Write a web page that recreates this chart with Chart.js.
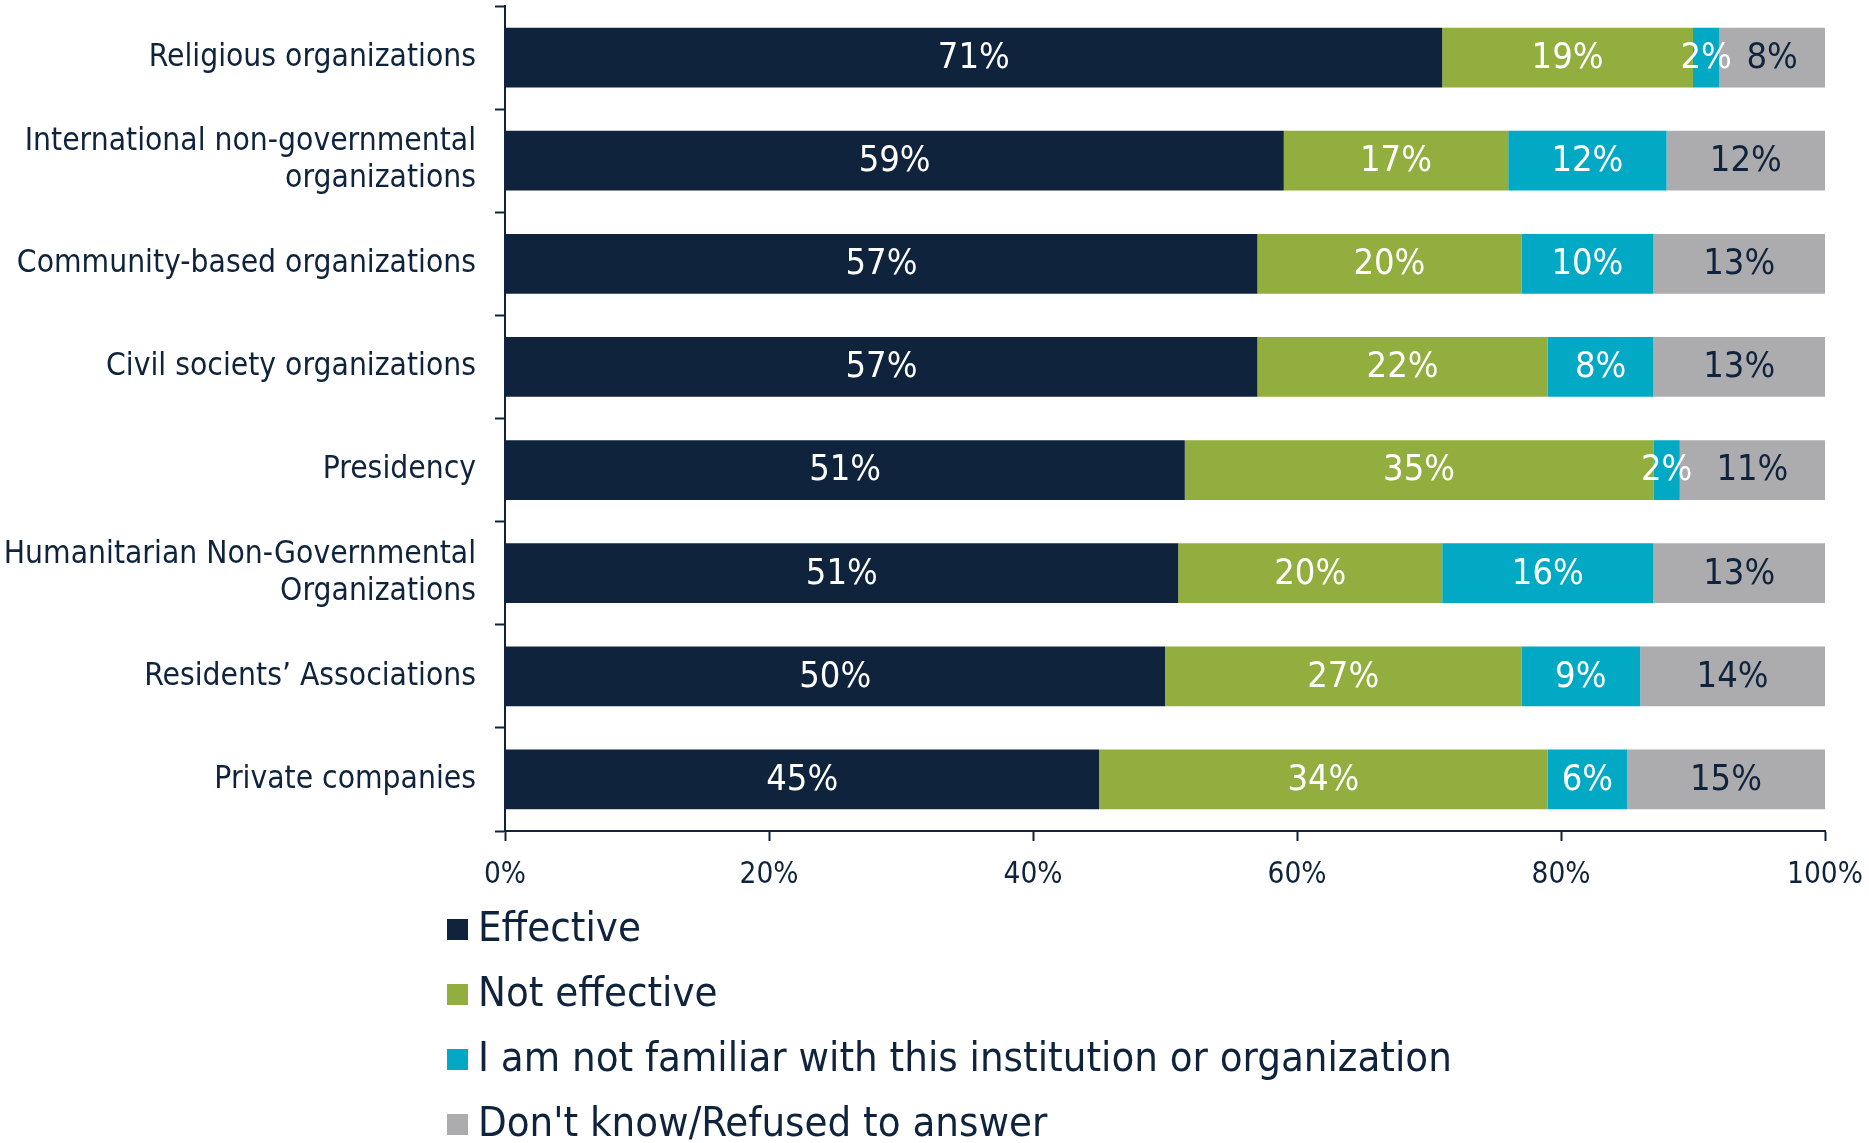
<!DOCTYPE html>
<html>
<head>
<meta charset="utf-8">
<script src="https://cdn.jsdelivr.net/npm/chart.js@4"></script>
<style>
  html, body { margin: 0; padding: 0; background: #ffffff; }
  canvas { display: block; }
</style>
</head>
<body>
<canvas id="effChart" width="1869" height="1143"></canvas>
<script>
const categories = [
  'Religious organizations',
  ['International non-governmental', 'organizations'],
  'Community-based organizations',
  'Civil society organizations',
  'Presidency',
  ['Humanitarian Non-Governmental', 'Organizations'],
  'Residents\u2019 Associations',
  'Private companies'
];
const effective    = [71, 59, 57, 57, 51.5, 51, 50, 45];
const notEffective = [19, 17, 20, 22, 35.5, 20, 27, 34];
const notFamiliar  = [2, 12, 10, 8, 2, 16, 9, 6];
const dontKnow     = [8, 12, 13, 13, 11, 13, 14, 15];
const seriesNames = [
  'Effective',
  'Not effective',
  'I am not familiar with this institution or organization',
  "Don't know/Refused to answer"
];
const xTickStep = 20;

const NAVY = '#0f243c';
const FONT = "'DejaVu Sans Condensed', 'Liberation Sans Narrow', 'DejaVu Sans', sans-serif";

// value labels centred in each segment
const segmentLabels = {
  id: 'segmentLabels',
  afterDatasetsDraw(chart) {
    const ctx = chart.ctx;
    ctx.save();
    ctx.font = '36px ' + FONT;
    ctx.textAlign = 'center';
    ctx.textBaseline = 'middle';
    chart.data.datasets.forEach((ds, i) => {
      chart.getDatasetMeta(i).data.forEach((bar, j) => {
        const v = ds.data[j];
        ctx.fillStyle = ds.labelColor;
        ctx.fillText(Math.floor(v) + '%', (bar.x + bar.base) / 2, bar.y + 1);
      });
    });
    ctx.restore();
  }
};

// one legend entry per line, under the x axis
const stackedLegend = {
  id: 'stackedLegend',
  afterDraw(chart) {
    const ctx = chart.ctx;
    const top = chart.chartArea.bottom;
    ctx.save();
    ctx.font = '41.5px ' + FONT;
    ctx.textBaseline = 'middle';
    chart.data.datasets.forEach((ds, i) => {
      const y = top + 98 + i * 65;
      ctx.fillStyle = ds.backgroundColor;
      ctx.fillRect(447, y - 10, 21, 21);
      ctx.fillStyle = NAVY;
      ctx.fillText(ds.label, 478, y + 1);
    });
    ctx.restore();
  }
};

new Chart(document.getElementById('effChart').getContext('2d'), {
  type: 'bar',
  data: {
    labels: categories,
    datasets: [
      { label: seriesNames[0], data: effective, backgroundColor: '#0f243c', labelColor: '#ffffff' },
      { label: seriesNames[1], data: notEffective, backgroundColor: '#92ae3e', labelColor: '#ffffff' },
      { label: seriesNames[2], data: notFamiliar, backgroundColor: '#02a9c4', labelColor: '#ffffff' },
      { label: seriesNames[3], data: dontKnow, backgroundColor: '#acabae', labelColor: NAVY }
    ]
  },
  options: {
    indexAxis: 'y',
    responsive: false,
    animation: false,
    devicePixelRatio: 1,
    layout: { padding: { top: 6, right: 44, left: 0, bottom: 0 } },
    datasets: {
      bar: { categoryPercentage: 1, barPercentage: 0.58, borderWidth: 0 }
    },
    plugins: {
      legend: { display: false },
      tooltip: { enabled: false },
      title: { display: false }
    },
    scales: {
      x: {
        stacked: true,
        min: 0,
        max: 100,
        afterFit(scale) {
          scale.height = 312;
          scale.paddingRight = 0;
          scale.paddingLeft = 0;
        },
        ticks: {
          stepSize: xTickStep,
          color: NAVY,
          padding: 17,
          font: { family: FONT, size: 29.5 },
          callback: v => v + '%'
        },
        grid: {
          drawOnChartArea: false,
          drawTicks: true,
          tickLength: 10,
          tickWidth: 2,
          color: NAVY
        },
        border: { display: true, color: NAVY, width: 2 }
      },
      y: {
        stacked: true,
        afterFit(scale) {
          scale.width = 505;
          scale.paddingTop = 0;
          scale.paddingBottom = 0;
        },
        ticks: {
          color: NAVY,
          padding: 19,
          autoSkip: false,
          font: { family: FONT, size: 31.5, lineHeight: 1.18 }
        },
        grid: {
          offset: true,
          drawOnChartArea: false,
          drawTicks: true,
          tickLength: 10,
          tickWidth: 2,
          color: NAVY
        },
        border: { display: true, color: NAVY, width: 2 }
      }
    }
  },
  plugins: [segmentLabels, stackedLegend]
});
</script>
</body>
</html>
